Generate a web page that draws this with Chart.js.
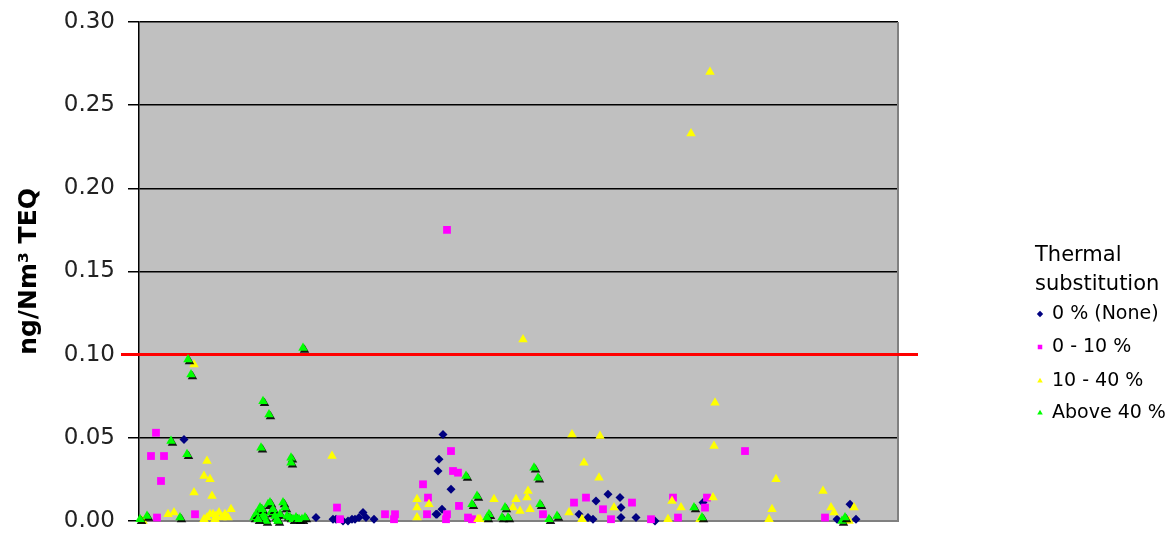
<!DOCTYPE html>
<html>
<head>
<meta charset="utf-8">
<script src="https://cdn.jsdelivr.net/npm/chart.js@4.4.1/dist/chart.umd.min.js"></script>
<style>
  html, body { margin: 0; padding: 0; background: #ffffff; }
  #wrap { position: relative; width: 1169px; height: 534px; }
</style>
</head>
<body>
<div id="wrap"><canvas id="teqChart"></canvas></div>
<script>
// Y axis (ng/Nm3 TEQ)
const yTicks = [0.00, 0.05, 0.10, 0.15, 0.20, 0.25, 0.30];
const limitValue = 0.10;
const sampleRange = [0, 759];

const seriesLabels = ["0 % (None)", "0 - 10 %", "10 - 40 %", "Above 40 %"];
const seriesTitle = ["Thermal", "substitution"];

// [sample, value] pairs
const noneSubst = [
  [45, 0.049], [177, 0.002], [194, 0.001], [197, 0.001], [204, 0.000], [209, 0.000],
  [213, 0.001], [216, 0.001], [220, 0.002], [224, 0.005], [227, 0.002], [235, 0.001],
  [297, 0.004], [298, 0.004], [303, 0.007], [299, 0.030], [300, 0.037], [304, 0.052],
  [312, 0.019], [440, 0.004], [449, 0.002], [454, 0.001], [457, 0.012], [469, 0.016],
  [481, 0.014], [482, 0.008], [482, 0.002], [497, 0.002], [516, 0.000], [564, 0.011],
  [698, 0.001], [711, 0.010], [717, 0.001]
];

const lowSubst = [
  [17, 0.053], [12, 0.039], [25, 0.039], [22, 0.024], [18, 0.002], [56, 0.004],
  [198, 0.008], [201, 0.001], [246, 0.004], [256, 0.004], [255, 0.001], [284, 0.022],
  [289, 0.014], [288, 0.004], [308, 0.004], [307, 0.001], [308, 0.175], [312, 0.042],
  [314, 0.030], [319, 0.029], [320, 0.009], [329, 0.002], [333, 0.001], [404, 0.004],
  [435, 0.011], [447, 0.014], [464, 0.007], [472, 0.001], [493, 0.011], [512, 0.001],
  [534, 0.014], [539, 0.002], [568, 0.014], [566, 0.008], [606, 0.042], [686, 0.002]
];

const midSubst = [
  [4, 0.000], [29, 0.004], [35, 0.005], [55, 0.094], [55, 0.017], [65, 0.027],
  [68, 0.036], [71, 0.025], [73, 0.015], [65, 0.001], [68, 0.002], [71, 0.004],
  [74, 0.004], [77, 0.003], [80, 0.005], [83, 0.002], [86, 0.004], [89, 0.002],
  [76, 0.001], [92, 0.007], [193, 0.039], [278, 0.013], [278, 0.008], [278, 0.002],
  [290, 0.010], [339, 0.001], [341, 0.001], [355, 0.013], [374, 0.008], [377, 0.013],
  [381, 0.006], [384, 0.109], [388, 0.014], [389, 0.018], [391, 0.007], [430, 0.005],
  [433, 0.052], [443, 0.001], [445, 0.035], [460, 0.026], [461, 0.051], [475, 0.008],
  [529, 0.001], [533, 0.012], [542, 0.008], [552, 0.233], [561, 0.001], [571, 0.270],
  [574, 0.014], [575, 0.045], [576, 0.071], [630, 0.001], [633, 0.007], [637, 0.025],
  [684, 0.018], [692, 0.008], [695, 0.005], [710, 0.000], [715, 0.008]
];

const highSubst = [
  [1, 0.001], [8, 0.003], [32, 0.048], [41, 0.002], [48, 0.040], [49, 0.097],
  [52, 0.088], [122, 0.044], [124, 0.072], [130, 0.064], [152, 0.038], [152, 0.035],
  [164, 0.104],
  [115, 0.002], [117, 0.004], [119, 0.005], [121, 0.008], [123, 0.007], [124, 0.003],
  [126, 0.002], [129, 0.010], [131, 0.011], [132, 0.005], [134, 0.007], [136, 0.003],
  [138, 0.001], [141, 0.004], [144, 0.011], [146, 0.008], [148, 0.003], [151, 0.002],
  [154, 0.001], [157, 0.002], [160, 0.001], [163, 0.001], [166, 0.002], [127, 0.000],
  [139, 0.000], [119, 0.001],
  [327, 0.027], [333, 0.010], [338, 0.015], [350, 0.004], [348, 0.002], [363, 0.002],
  [366, 0.008], [369, 0.002], [395, 0.032], [399, 0.026], [401, 0.010], [410, 0.001],
  [418, 0.003], [555, 0.008], [563, 0.002], [703, 0.000], [706, 0.002]
];

const seriesColors = ["#000080", "#ff00ff", "#ffff00", "#00ff00"];
const seriesShapes = ["rectRot", "rect", "triangle", "triangle"];
const seriesRadius = [4.5, 5.5, 5.5, 5.5];

function toPoints(pairs) {
  return pairs.map(([x, y]) => ({ x, y }));
}

const allSeries = [noneSubst, lowSubst, midSubst, highSubst];

const datasets = allSeries.map((pairs, i) => ({
  label: seriesLabels[i],
  data: toPoints(pairs),
  pointStyle: seriesShapes[i],
  pointRadius: seriesRadius[i],
  pointHoverRadius: seriesRadius[i],
  pointBackgroundColor: seriesColors[i],
  pointBorderWidth: 0,
  backgroundColor: seriesColors[i],
  borderColor: seriesColors[i],
  order: 3 - i,
  clip: false,
}));

const plotBackground = {
  id: "plotBackground",
  beforeDraw(chart) {
    const { ctx, chartArea: a } = chart;
    ctx.save();
    ctx.fillStyle = "#c0c0c0";
    ctx.fillRect(a.left, a.top, a.right - a.left, a.bottom - a.top);
    ctx.restore();
  },
  beforeDatasetsDraw(chart) {
    const { ctx, chartArea: a, scales } = chart;
    ctx.save();
    // grey frame on the right and bottom
    ctx.strokeStyle = "#808080";
    ctx.lineWidth = 2;
    ctx.beginPath();
    ctx.moveTo(a.left, a.bottom);
    ctx.lineTo(a.right, a.bottom);
    ctx.lineTo(a.right, a.top);
    ctx.stroke();
    // limit line
    const y = scales.y.getPixelForValue(limitValue);
    ctx.strokeStyle = "#ff0000";
    ctx.lineWidth = 3;
    ctx.beginPath();
    ctx.moveTo(a.left - 18, y);
    ctx.lineTo(a.right + 20, y);
    ctx.stroke();
    ctx.restore();
  },
};

// dark drop shadow under the green markers
const markerShadow = {
  id: "markerShadow",
  beforeDatasetDraw(chart, args) {
    if (args.index !== 3) return;
    const ctx = chart.ctx;
    ctx.save();
    ctx.shadowColor = "rgba(0,0,0,0.9)";
    ctx.shadowOffsetX = 1.5;
    ctx.shadowOffsetY = 2;
    ctx.shadowBlur = 0;
  },
  afterDatasetDraw(chart, args) {
    if (args.index !== 3) return;
    chart.ctx.restore();
  },
};

const sideLegend = {
  id: "sideLegend",
  afterDraw(chart) {
    const ctx = chart.ctx;
    ctx.save();
    ctx.fillStyle = "#000000";
    ctx.textAlign = "left";
    ctx.textBaseline = "middle";
    ctx.font = "21px 'DejaVu Sans', sans-serif";
    ctx.fillText(seriesTitle[0], 1035, 256);
    ctx.fillText(seriesTitle[1], 1035, 285);
    ctx.font = "19px 'DejaVu Sans', sans-serif";
    const rows = [314, 347, 381, 413];
    seriesLabels.forEach((label, i) => {
      ctx.fillStyle = seriesColors[i];
      Chart.helpers.drawPoint(ctx, { pointStyle: seriesShapes[i], radius: 3.2, rotation: 0, borderWidth: 0 }, 1040, rows[i]);
      ctx.fillStyle = "#000000";
      ctx.fillText(label, 1052, rows[i]);
    });
    ctx.restore();
  },
};

new Chart(document.getElementById("teqChart"), {
  type: "scatter",
  data: { datasets },
  options: {
    responsive: true,
    maintainAspectRatio: false,
    animation: false,
    layout: { padding: { left: 0, right: 271, top: 22, bottom: 13 } },
    plugins: {
      legend: { display: false },
      tooltip: { enabled: false },
    },
    scales: {
      x: {
        type: "linear",
        display: false,
        min: sampleRange[0],
        max: sampleRange[1],
      },
      y: {
        min: yTicks[0],
        max: yTicks[yTicks.length - 1],
        afterFit(scale) {
          scale.width = 139;
        },
        afterBuildTicks(scale) {
          scale.ticks = yTicks.map((v) => ({ value: v }));
        },
        ticks: {
          padding: 13,
          color: "#222222",
          font: { family: "'DejaVu Sans', sans-serif", size: 23, lineHeight: 0.01 },
          callback: (v) => Number(v).toFixed(2),
        },
        grid: {
          color: (c) => (c.tick && c.tick.value === 0 ? "#808080" : "#000000"),
          tickColor: "#000000",
          lineWidth: 1.5,
          tickLength: 11,
        },
        border: { color: "#000000", width: 1.5 },
        title: {
          display: true,
          text: "ng/Nm³ TEQ",
          color: "#000000",
          font: { family: "'DejaVu Sans', sans-serif", size: 25, weight: "bold" },
          padding: { top: 14, bottom: 0 },
        },
      },
    },
  },
  plugins: [plotBackground, markerShadow, sideLegend],
});
</script>
</body>
</html>
